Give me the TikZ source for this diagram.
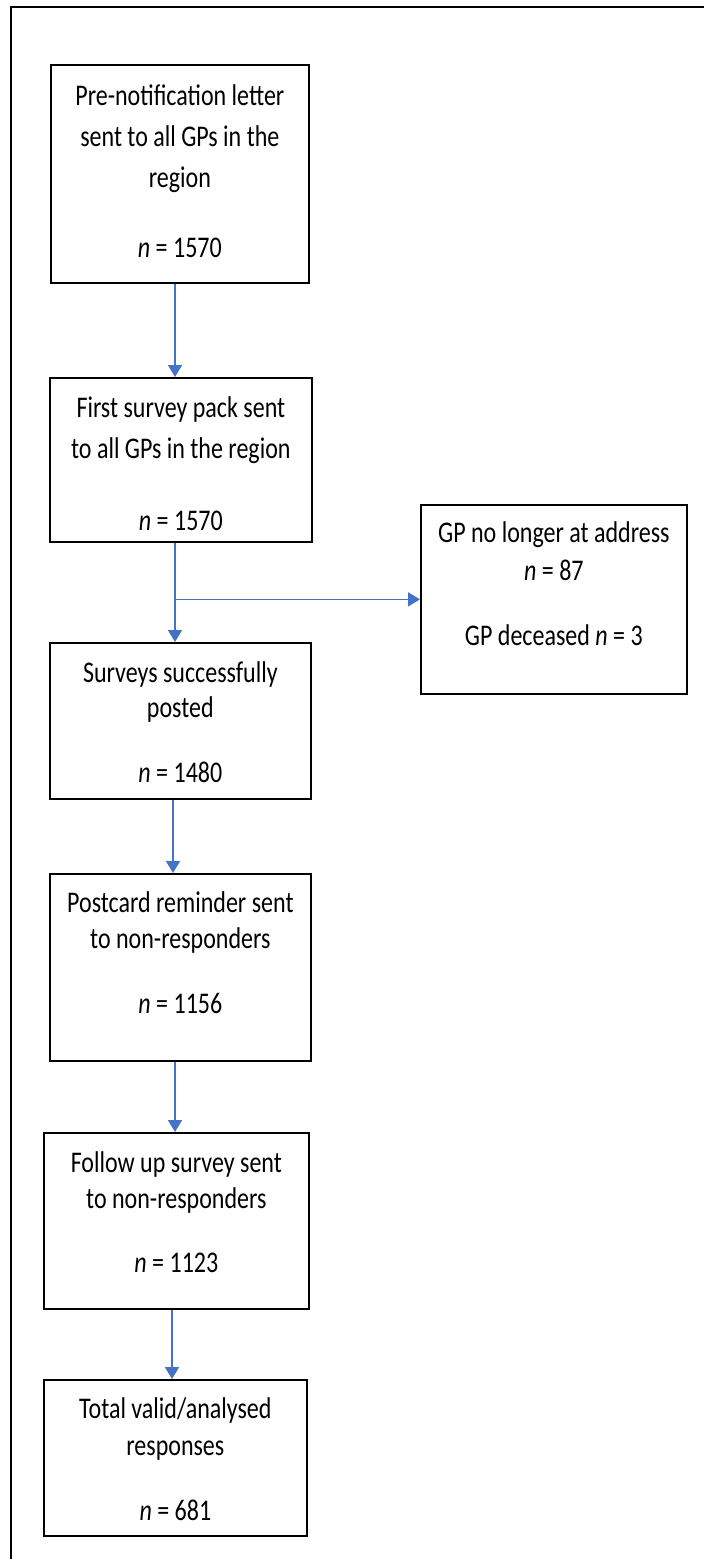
\documentclass[tikz,border=0pt]{standalone}
\usepackage{fontspec}
\setmainfont{Carlito}[FakeStretch=0.8]
\usetikzlibrary{arrows.meta}
\definecolor{arrowblue}{RGB}{68,114,196}
\tikzset{
  box/.style={draw=black, line width=1.7pt, anchor=north west, inner sep=0pt},
  txt/.style={anchor=north, inner sep=0pt, align=center, font=\fontsize{30}{#1}\selectfont},
  arr/.style={draw=arrowblue, line width=1.6pt, -{Triangle[length=12pt,width=14pt]}},
  frame/.style={draw=black, line width=1.2pt},
}
\newcommand{\firststrut}{\rule{0pt}{24pt}}
\begin{document}
\begin{tikzpicture}[x=1pt,y=-1pt]
\useasboundingbox (0,0) rectangle (704,1559);
\draw[frame] (11,1559) -- (11,7) -- (704,7);

% boxes
\node[box, minimum width=258pt, minimum height=218pt] (b1) at (50,64) {};
\node[box, minimum width=262pt, minimum height=164pt] (b2) at (49,377) {};
\node[box, minimum width=261pt, minimum height=156pt] (b3) at (49,642) {};
\node[box, minimum width=266pt, minimum height=189pt] (b7) at (420,504) {};
\node[box, minimum width=261pt, minimum height=187pt] (b4) at (49,873) {};
\node[box, minimum width=265pt, minimum height=176pt] (b5) at (43,1132) {};
\node[box, minimum width=263pt, minimum height=156pt] (b6) at (43,1379) {};

% texts
\node[txt=41pt, yshift=-17pt] (t1) at (b1.north)
  {\firststrut Pre-notification letter\\sent to all GPs in the\\region\\[29pt]\textit{n} = 1570};
\node[txt=41pt, yshift=-16pt] (t2) at (b2.north)
  {\firststrut First survey pack sent\\to all GPs in the region\\[31pt]\textit{n} = 1570};
\node[txt=35pt, yshift=-16pt] (t3) at (b3.north)
  {\firststrut Surveys successfully\\posted\\[30pt]\textit{n} = 1480};
\node[txt=38pt, yshift=-14pt] (t7) at (b7.north)
  {\firststrut GP no longer at address\\\textit{n} = 87\\[27pt]GP deceased \textit{n} = 3};
\node[txt=36pt, yshift=-15pt] (t4) at (b4.north)
  {\firststrut Postcard reminder sent\\to non-responders\\[29pt]\textit{n} = 1156};
\node[txt=36pt, yshift=-16pt] (t5) at (b5.north)
  {\firststrut Follow up survey sent\\to non-responders\\[28pt]\textit{n} = 1123};
\node[txt=37pt, yshift=-15pt] (t6) at (b6.north)
  {\firststrut Total valid/analysed\\responses\\[28pt]\textit{n} = 681};

% connector columns
\coordinate (c1) at (175,0);
\coordinate (c3) at (173,0);
\coordinate (c5) at (172,0);

\draw[arr] (b1.south -| c1) -- (b2.north -| c1);
\draw[arr] (b2.south -| c1) -- (b3.north -| c1);
\draw[arr] (b7.west -| c1) -- (b7.west);
\draw[arr] (b3.south -| c3) -- (b4.north -| c3);
\draw[arr] (b4.south -| c1) -- (b5.north -| c1);
\draw[arr] (b5.south -| c5) -- (b6.north -| c5);
\end{tikzpicture}
\end{document}
